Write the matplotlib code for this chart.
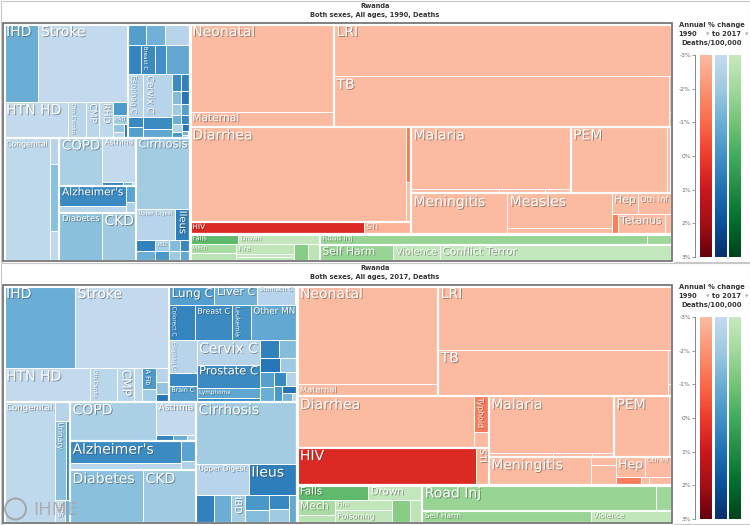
import matplotlib
matplotlib.use("Agg")
import matplotlib.pyplot as plt
import matplotlib.patheffects as pe
from matplotlib.patches import Rectangle, Circle
from matplotlib.colors import ListedColormap
from matplotlib.textpath import TextPath
from matplotlib.font_manager import FontProperties
import numpy as np

# ---------------- data (deaths) ----------------
ncd_causes = ["IHD", "Stroke", "HTN HD", "Oth Cardio", "CMP", "RHD", "A Fib", "PAD",
              "Endocarditis", "Aortic An", "Myocarditis",
              "Lung C", "Liver C", "Stomach C", "Oth Neoplasm", "Colorect C", "Breast C",
              "Leukemia", "Other MN", "Esophag C", "Pancreas C", "Brain C", "Cervix C",
              "Prostate C", "Lymphoma", "Ovary C", "Kidney C", "Bladder C", "Uterus C",
              "Thyroid C", "Larynx C", "Mouth C", "Nasophar C", "Myeloma", "Hodgkin",
              "Skin C", "Gallbladder C", "Testis C",
              "Congenital", "Hemoglobinop", "Urinary", "Endocrine", "SIDS", "Oral",
              "COPD", "Asthma", "ILD", "Pneumocon", "Oth Resp",
              "Alzheimer's", "Epilepsy", "Parkinson's", "Oth Neuro",
              "Diabetes", "CKD",
              "Cirrhosis", "Upper Digest", "Ileus", "Pancreatitis", "Gallbladder", "IBD",
              "Vascular Int", "Appendicitis", "Hernia", "Oth Digest", "Peptic Ulcer"]
ncd_group = (["Cardio"] * 11 + ["Neoplasms"] * 27 + ["Other NCD"] * 6 + ["Chronic Resp"] * 5
             + ["Neuro"] * 4 + ["Diab CKD"] * 2 + ["Digestive"] * 11)
ncd_1990 = [2652, 6786, 2268, 612, 468, 468, 200, 130, 90, 70, 50,
            374, 396, 528, 20, 348, 406, 290, 667, 630, 135, 165, 1218, 320, 260, 150, 140,
            120, 110, 100, 90, 85, 75, 70, 60, 50, 21, 10,
            5535, 234, 500, 103, 230, 40,
            1974, 1440, 80, 32, 16,
            1280, 448, 150, 100,
            1968, 1584,
            3710, 1178, 434, 200, 180, 150, 130, 110, 100, 100, 90]
ncd_2017 = [5670, 7452, 2805, 858, 561, 264, 273, 156, 150, 180, 99,
            855, 798, 722, 40, 875, 1260, 630, 1575, 864, 351, 405, 1488, 1426, 558, 248, 330,
            300, 270, 240, 210, 190, 170, 150, 130, 110, 80, 40,
            5929, 285, 858, 312, 220, 110,
            3268, 1280, 102, 84, 54,
            2331, 777, 300, 135,
            3650, 2650,
            6076, 1581, 1457, 480, 420, 370, 330, 300, 270, 250, 226]
ncd_change = [-1.0, -2.9, -2.9, -2.7, -2.7, -2.8, -0.3, -2.2, -1.8, -2.6, 0.8,
              -0.4, -1.1, -2.6, -2.0, 0.4, 0.2, 0.0, -0.8, -2.6, 0.3, -0.4, -2.6, 0.2, -0.7,
              0.2, 0.5, -1.5, 0.8, -2.0, -0.5, -1.0, 0.3, -2.5, -0.2, 0.9, -1.2, -2.8,
              -2.8, -2.6, -1.6, 0.2, -2.8, -1.0,
              -2.3, -2.9, 0.4, -1.0, -2.6,
              0.2, -2.7, -0.6, -2.4,
              -1.6, -2.0,
              -2.1, -2.6, 0.6, 0.5, -1.0, -2.2, -0.2, -1.5, 0.3, -2.0, -0.8]

cmnn_causes = ["Neonatal", "Maternal", "LRI", "TB", "URI", "Otitis", "Diarrhea", "Typhoid",
               "iNTS", "HIV", "STI", "Malaria", "Oth NTD", "Schisto", "Intest Worms", "PEM",
               "Oth Nutr", "Meningitis", "Measles", "Encephalitis", "Hep", "Oth Inf",
               "Diphtheria", "Tetanus", "Varicella"]
cmnn_group = (["Mat Neo"] * 2 + ["Resp TB"] * 4 + ["Enteric"] * 3 + ["HIV STI"] * 2
              + ["NTD Malaria"] * 4 + ["Nutrition"] * 2 + ["Other Inf"] * 8)
cmnn_1990 = [12298, 2145, 17238, 16415, 105, 42, 19995, 270, 195, 1914, 517, 9638, 350, 180,
             102, 6240, 260, 3760, 3468, 612, 520, 680, 114, 893, 133]
cmnn_2017 = [13300, 1680, 14384, 10305, 100, 35, 8700, 510, 225, 6372, 468, 6776, 250, 150,
             84, 3192, 150, 2772, 192, 480, 551, 513, 207, 60, 183]
cmnn_change = [-3.0, -3.0, -3.0, -3.0, -3.0, -3.0, -3.0, -1.4, -3.0, 0.5, -2.8, -3.0, -3.0,
               -3.0, -3.0, -3.0, -3.0, -3.0, -3.0, -3.0, -3.0, -3.0, -1.5, -3.0, -3.0]

inj_causes = ["Falls", "Drown", "Mech", "Foreign Body", "Fire", "Poisoning", "Heat Cold",
              "Animal", "Oth Unint", "Road Inj", "Oth Transport", "Self Harm", "Violence",
              "Conflict Terror"]
inj_group = ["Unintentional"] * 9 + ["Transport"] * 2 + ["Self Harm Viol"] * 3
inj_1990 = [480, 820, 414, 322, 570, 171, 171, 224, 192, 3586, 264, 1095, 690, 3450]
inj_2017 = [1008, 770, 555, 259, 570, 654, 30, 396, 264, 5928, 390, 1815, 858, 10]
inj_change = [-0.6, -2.9, -2.2, -2.6, -2.8, -2.8, -2.8, -1.4, -2.7, -1.8, -1.9, -1.8, -2.8, -2.9]

ticks = [-3, -2, -1, 0, 1, 2, 3]

# ---------------- arrangement of the treemap ----------------
other_ncd = ('row', ["Congenital", ('col', ["Hemoglobinop", ('row', ["Urinary", "Endocrine"]),
                                            ('row', ["SIDS", "Oral"])])])
resp = ('row', ["COPD", ('col', ["Asthma", ('row', ["ILD", "Pneumocon", "Oth Resp"])])])
neuro = ('row', [('col', ["Alzheimer's", "Epilepsy"]), ('col', ["Parkinson's", "Oth Neuro"])])
diab = ('row', ["Diabetes", "CKD"])
digest = ('col', ["Cirrhosis", ('row', ["Upper Digest", "Ileus"]),
                  ('sq', ["Pancreatitis", "Gallbladder", "IBD", "Vascular Int", "Appendicitis",
                          "Hernia", "Oth Digest", "Peptic Ulcer"])])
small_c = ["Kidney C", "Bladder C", "Uterus C", "Thyroid C", "Larynx C", "Mouth C", "Nasophar C",
           "Myeloma", "Hodgkin", "Skin C", "Gallbladder C"]

cardio_1990 = ('col', [('row', ["IHD", "Stroke"]),
                       ('row', ["HTN HD", "Oth Cardio", "CMP", "RHD",
                                ('sq', ["A Fib", "PAD", "Endocarditis", "Aortic An", "Myocarditis"])])])
cardio_2017 = ('col', [('row', ["IHD", "Stroke"]),
                       ('row', ["HTN HD", "Oth Cardio", "CMP", "RHD", ('col', ["A Fib", "PAD"]),
                                ('sq', ["Aortic An", "Endocarditis", "Myocarditis"])])])
neo_1990 = ('col', [('row', ["Lung C", "Liver C", "Stomach C"]),
                    ('row', ["Colorect C", "Breast C", "Leukemia", "Other MN"]),
                    ('row', [('col', ["Esophag C", "Pancreas C", "Brain C"]),
                             ('col', ["Cervix C", "Prostate C", "Lymphoma"]),
                             ('sq', ["Ovary C"] + small_c + ["Oth Neoplasm", "Testis C"])])])
neo_2017 = ('col', [('row', ["Lung C", "Liver C", "Stomach C", "Oth Neoplasm"]),
                    ('row', ["Colorect C", "Breast C", "Leukemia", "Other MN"]),
                    ('row', [('col', ["Esophag C", "Pancreas C", "Brain C"]),
                             ('col', ["Cervix C", "Prostate C", "Lymphoma", "Ovary C"]),
                             ('sq', small_c + ["Testis C"])])])

cmnn = ('col', [
    ('row', [('col', ["Neonatal", "Maternal"]),
             ('col', ["LRI", ('row', ["TB", ('col', ["URI", "Otitis"])])])]),
    ('row', [('col', [('row', ["Diarrhea", ('col', ["Typhoid", "iNTS"])]), ('row', ["HIV", "STI"])]),
             ('col', [('row', [('col', ["Malaria", ('row', ["Oth NTD", "Schisto", "Intest Worms"])]),
                               ('row', ["PEM", "Oth Nutr"])]),
                      ('row', ["Meningitis", ('col', ["Measles", "Encephalitis"]),
                               ('col', [('row', ["Hep", "Oth Inf"]),
                                        ('row', ["Diphtheria", "Tetanus", "Varicella"])])])])])])
inj = ('row', [('col', [('row', ["Falls", "Drown"]),
                        ('row', [('col', ["Mech", "Foreign Body"]),
                                 ('col', ["Fire", "Poisoning", "Heat Cold"]), "Animal", "Oth Unint"])]),
               ('col', [('row', ["Road Inj", "Oth Transport"]),
                        ('row', ["Self Harm", "Violence", "Conflict Terror"])])])


def full_tree(cardio, neo):
    ncd = ('col', [('row', [cardio, neo]),
                   ('row', [other_ncd, ('col', [resp, neuro, diab]), digest])])
    return ('row', [ncd, ('col', [cmnn, inj])])


# ---------------- lookups ----------------
reds = ListedColormap(plt.cm.Reds(np.linspace(0.25, 1, 256)))
blues = ListedColormap(plt.cm.Blues(np.linspace(0.25, 1, 256)))
greens = ListedColormap(plt.cm.Greens(np.linspace(0.25, 1, 256)))

vals = {1990: {}, 2017: {}}
change, group, level1 = {}, {}, {}
for names, grp, v90, v17, ch, lv in [
        (ncd_causes, ncd_group, ncd_1990, ncd_2017, ncd_change, "NCD"),
        (cmnn_causes, cmnn_group, cmnn_1990, cmnn_2017, cmnn_change, "CMNN"),
        (inj_causes, inj_group, inj_1990, inj_2017, inj_change, "Inj")]:
    for i, n in enumerate(names):
        vals[1990][n] = v90[i]
        vals[2017][n] = v17[i]
        change[n] = ch[i]
        group[n] = grp[i]
        level1[n] = lv
cmap_of = {"NCD": blues, "CMNN": reds, "Inj": greens}


def total(node, v):
    if isinstance(node, str):
        return v[node]
    return sum(total(k, v) for k in node[1])


def squarify(names, v, x, y, w, h, out):
    items = [(n, v[n]) for n in names if v[n] > 0]
    tot = sum(a for _, a in items)
    areas = [(n, a * w * h / tot) for n, a in items]
    i = 0
    while i < len(areas):
        short = min(w, h)

        def worst(r):
            s = sum(a for _, a in r)
            return max(max(short ** 2 * a / s ** 2, s ** 2 / (short ** 2 * a)) for _, a in r)
        row = [areas[i]]
        i += 1
        while i < len(areas) and worst(row + [areas[i]]) <= worst(row):
            row.append(areas[i])
            i += 1
        s = sum(a for _, a in row)
        if w >= h:
            cw = s / h
            yy = y
            for n, a in row:
                out[n] = (x, yy, cw, a / cw)
                yy += a / cw
            x += cw
            w -= cw
        else:
            rh = s / w
            xx = x
            for n, a in row:
                out[n] = (xx, y, a / rh, rh)
                xx += a / rh
            y += rh
            h -= rh


def layout(node, v, x, y, w, h, out):
    if isinstance(node, str):
        if v[node] > 0:
            out[node] = (x, y, w, h)
        return
    kind, kids = node
    if kind == 'sq':
        squarify(kids, v, x, y, w, h, out)
        return
    sizes = [total(k, v) for k in kids]
    tot = sum(sizes)
    pos = 0
    for k, s in zip(kids, sizes):
        if s <= 0:
            continue
        if kind == 'row':
            layout(k, v, x + w * pos / tot, y, w * s / tot, h, out)
        else:
            layout(k, v, x, y + h * pos / tot, w, h * s / tot, out)
        pos += s


fp = FontProperties(family="DejaVu Sans")
_tw = {}


def text_w(s):
    if s not in _tw:
        _tw[s] = TextPath((0, 0), s, size=1, prop=fp).get_extents().width
    return _tw[s]


def bbox(rects):
    x0 = min(r[0] for r in rects)
    y0 = min(r[1] for r in rects)
    x1 = max(r[0] + r[2] for r in rects)
    y1 = max(r[1] + r[3] for r in rects)
    return x0, y0, x1 - x0, y1 - y0


shadow = [pe.withSimplePatchShadow(offset=(0.7, -0.7), shadow_rgbFace="#333333", alpha=0.45)]

fig = plt.figure(figsize=(7.5, 5.25), dpi=100)
ax = fig.add_axes([0, 0, 1, 1])
ax.set_xlim(0, 750)
ax.set_ylim(525, 0)
ax.axis("off")


def draw_panel(year, tree, off):
    ax.add_patch(Rectangle((0.5, off + 0.5), 749, 261, fill=False, ec="#c8c8c8", lw=0.8))
    ax.text(375, off + 6.5, "Rwanda", ha="center", va="center", fontsize=4.8,
            fontweight="bold", color="#333333")
    ax.text(375, off + 14.8, f"Both sexes, All ages, {year}, Deaths", ha="center",
            va="center", fontsize=4.8, fontweight="bold", color="#333333")

    x0, y0, x1, y1 = 3.5, off + 23.5, 671.5, off + 260.5
    rects = {}
    layout(tree, vals[year], x0, y0, x1 - x0, y1 - y0, rects)

    for n, (x, y, w, h) in rects.items():
        c = cmap_of[level1[n]]((change[n] + 3) / 6)
        ax.add_patch(Rectangle((x, y), w, h, fc=c, ec="white", lw=0.7))
    for key, lw in [(group, 1.5), (level1, 2.2)]:
        for g in set(key.values()):
            rs = [r for n, r in rects.items() if key[n] == g]
            if rs:
                bx, by, bw, bh = bbox(rs)
                ax.add_patch(Rectangle((bx, by), bw, bh, fill=False, ec="white", lw=lw))
    ax.add_patch(Rectangle((x0 - 0.5, y0 - 0.5), x1 - x0 + 1, y1 - y0 + 1, fill=False,
                           ec="#6b6b6b", lw=1.2))

    for n, (x, y, w, h) in rects.items():
        tw = text_w(n)
        fs = min(14, (w - 6) / tw, (h - 2) * 0.8)
        rot = 0
        if h > w and fs < 6:
            fv = min(14, (h - 6) / tw, (w - 2) * 0.8)
            if fv > fs:
                fs, rot = fv, 270
        if fs < 5:
            continue
        ax.text(x + 2.5, y + 1.5, n, rotation=rot, ha="left", va="top",
                fontsize=fs * 0.72, color="white", path_effects=shadow)

    # legend
    ax.text(712, off + 25.5, "Annual % change", ha="center", va="center", fontsize=4.9,
            fontweight="bold", color="#333333")
    ax.text(678, off + 34, "1990", ha="left", va="center", fontsize=4.9,
            fontweight="bold", color="#333333")
    ax.text(708, off + 34, "\u25bc", ha="center", va="center", fontsize=3.2, color="#aaaaaa")
    ax.text(712, off + 34, "to 2017", ha="left", va="center", fontsize=4.9,
            fontweight="bold", color="#333333")
    ax.text(746.5, off + 34, "\u25bc", ha="center", va="center", fontsize=3.2, color="#aaaaaa")
    ax.text(712, off + 43, "Deaths/100,000", ha="center", va="center", fontsize=4.9,
            fontweight="bold", color="#333333")

    cax = fig.add_axes([695 / 750, 1 - (off + 257) / 525, 47 / 750, 202 / 525])
    grad = np.linspace(-3, 3, 256).reshape(-1, 1)
    for cm, xl in zip([reds, blues, greens], [5, 20, 34]):
        cax.imshow(grad, cmap=cm, vmin=-3, vmax=3, extent=(xl, xl + 12, 3, -3), aspect="auto")
    cax.set_xlim(0, 47)
    cax.set_ylim(3, -3)
    cax.set_xticks([])
    cax.set_yticks(ticks)
    cax.set_yticklabels([f"{t}%" for t in ticks])
    for s in ["top", "right", "bottom"]:
        cax.spines[s].set_visible(False)
    cax.spines["left"].set_color("#888888")
    cax.spines["left"].set_linewidth(0.7)
    cax.tick_params(axis="y", length=2, width=0.6, color="#888888", labelsize=4.3,
                    labelcolor="#666666", pad=1)
    cax.patch.set_alpha(0)


draw_panel(1990, full_tree(cardio_1990, neo_1990), 0)
draw_panel(2017, full_tree(cardio_2017, neo_2017), 262)

# IHME mark
ax.add_patch(Circle((15.5, 509), 10.5, fill=False, ec="#9a9a9a", lw=1.4, alpha=0.8))
ax.text(33, 510, "IHME", ha="left", va="center", fontsize=13, color="#a8a8a8", alpha=0.85)

fig.savefig("out.png", dpi=100)
